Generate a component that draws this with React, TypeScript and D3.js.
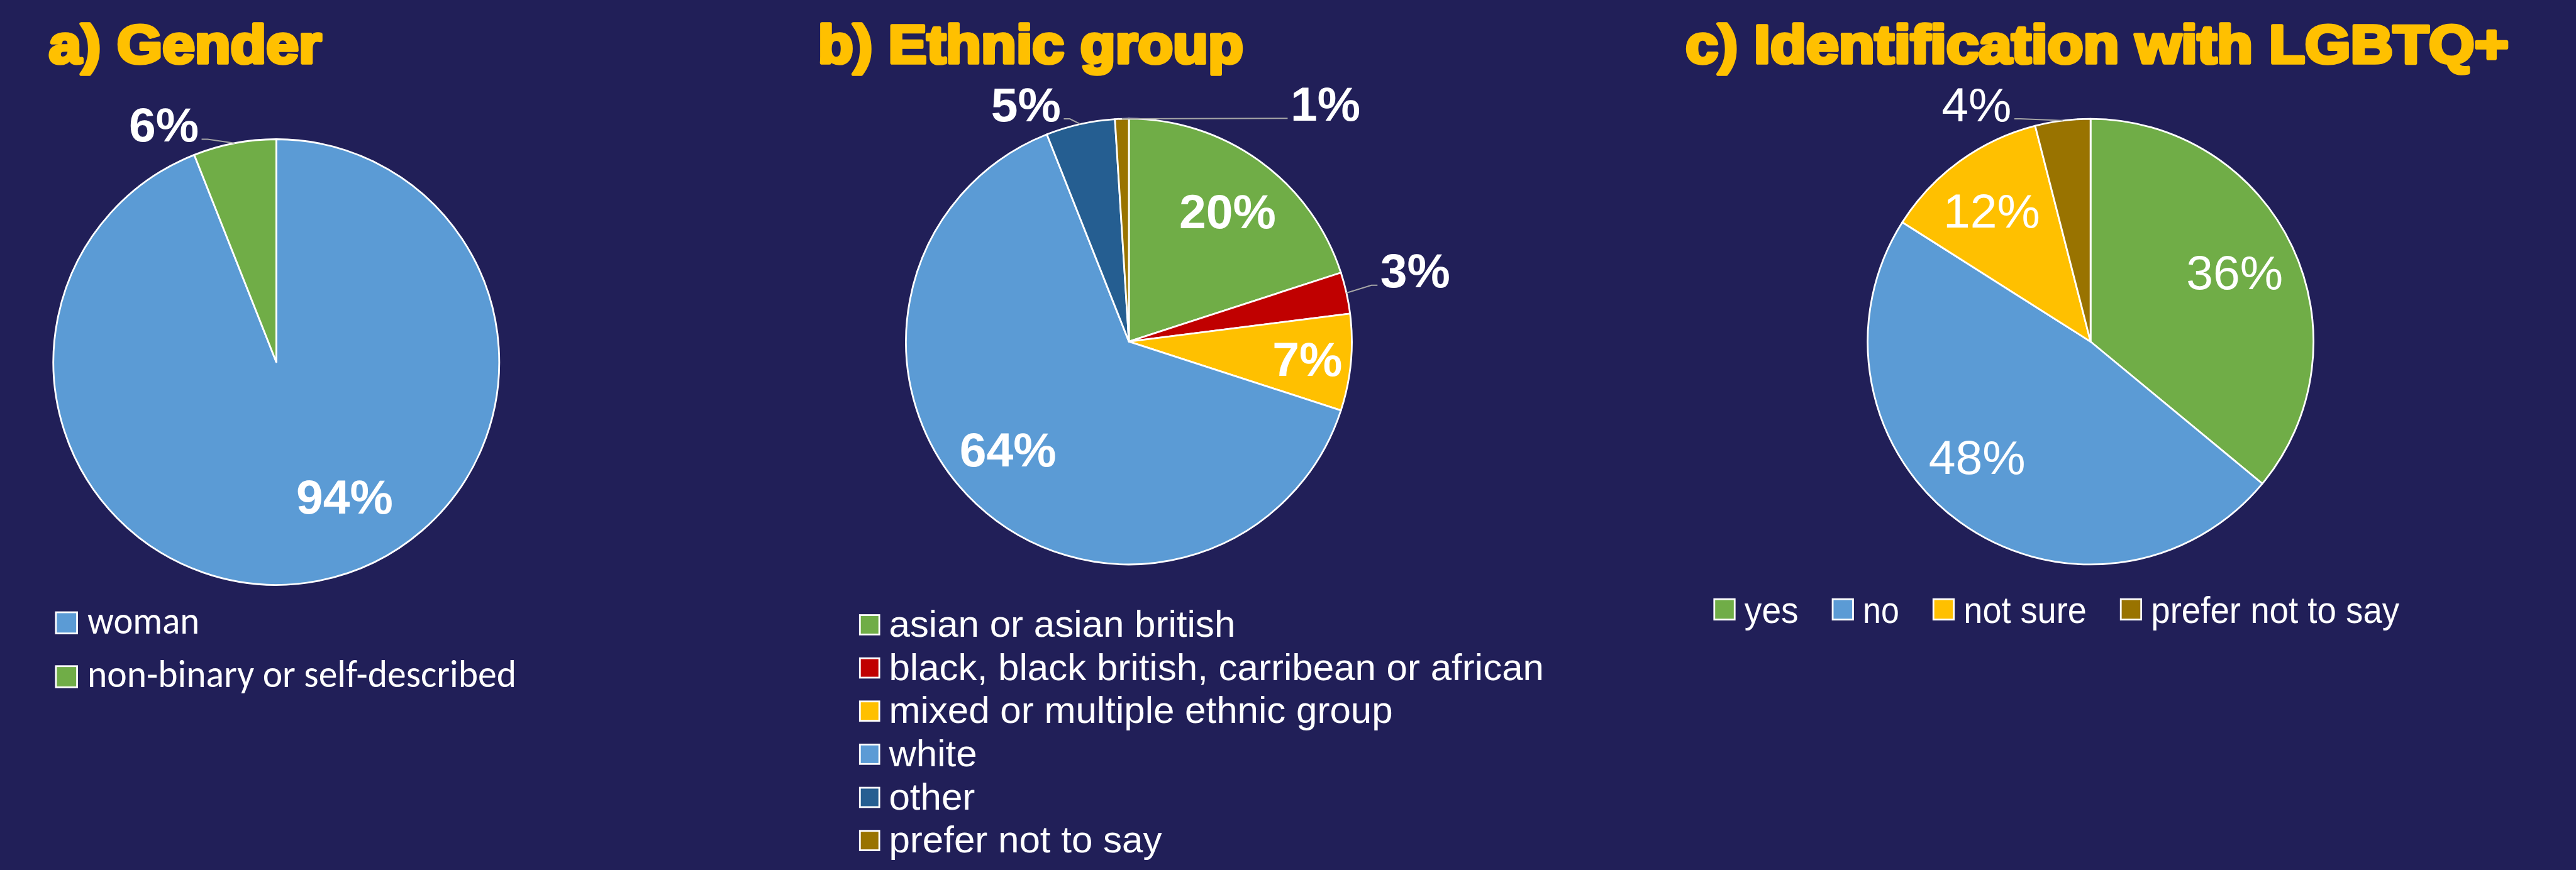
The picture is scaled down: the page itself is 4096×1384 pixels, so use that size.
import React, { useEffect } from "react";
import * as d3 from "d3";

// ---------- data ----------
const genderCategories = ["woman", "non-binary or self-described"];
const genderValues = [94, 6];

const ethnicCategories = [
  "asian or asian british",
  "black, black british, carribean or african",
  "mixed or multiple ethnic group",
  "white",
  "other",
  "prefer not to say",
];
const ethnicValues = [20, 3, 7, 64, 5, 1];

const lgbtqCategories = ["yes", "no", "not sure", "prefer not to say"];
const lgbtqValues = [36, 48, 12, 4];

const titles = ["a) Gender", "b) Ethnic group", "c) Identification with LGBTQ+"];

// ---------- style / layout ----------
const GREEN = "#70AD47";
const LBLUE = "#5B9BD5";
const RED = "#C00000";
const YELLOW = "#FFC000";
const DBLUE = "#255E91";
const BROWN = "#997300";
const BG = "#211F58";

const genderColors = [LBLUE, GREEN];
const ethnicColors = [GREEN, RED, YELLOW, LBLUE, DBLUE, BROWN];
const lgbtqColors = [GREEN, LBLUE, YELLOW, BROWN];

// label placement: [angle in degrees clockwise from 12 o'clock, distance as fraction of radius]
const genderLabelPos: [number, number][] = [[153.1, 0.677], [334.7, 1.181]];
const ethnicLabelPos: [number, number][] = [
  [37.1, 0.734], [76.0, 1.324], [95.4, 0.804], [228.4, 0.726], [336.6, 1.163], [39.5, 1.386],
];
const lgbtqLabelPos: [number, number][] = [[64.2, 0.718], [224.6, 0.725], [323, 0.737], [334.4, 1.184]];

const S = 0.801;
const R = 442.5;
const LABEL_FS = 96;
const TITLE_FS = 106;
const TITLE_Y = 125;

function polar(cx: number, cy: number, d: number, deg: number): [number, number] {
  const a = (deg * Math.PI) / 180;
  return [cx + d * Math.sin(a), cy - d * Math.cos(a)];
}

function Pie(props: {
  cx: number;
  cy: number;
  values: number[];
  colors: string[];
  labelPos: [number, number][];
  bold: boolean;
}) {
  const { cx, cy, values, colors, labelPos, bold } = props;
  const arcs = d3.pie<number>().sort(null).value((d) => d)(values);
  const arcGen = d3.arc<d3.PieArcDatum<number>>().innerRadius(0).outerRadius(R);
  return (
    <g>
      <g transform={`translate(${cx},${cy})`}>
        {arcs.map((a, i) => (
          <path key={i} d={arcGen(a) || ""} fill={colors[i]} stroke="#FFFFFF" strokeWidth={3.5} strokeLinejoin="round" />
        ))}
      </g>
      {arcs.map((a, i) => {
        const [ang, frac] = labelPos[i];
        const [lx, ly] = polar(cx, cy, frac * R, ang);
        const out = frac > 1;
        let leader = null;
        if (out) {
          const midDeg = (((a.startAngle + a.endAngle) / 2) * 180) / Math.PI;
          const [ex, ey] = polar(cx, cy, R, midDeg);
          const dir = lx < ex ? 1 : -1;
          const sx = lx + dir * 75;
          const sy = ly + 30;
          const pts = [
            [sx, sy],
            [sx + dir * 12, sy],
            [ex, ey],
          ];
          leader = (
            <polyline
              points={pts.map((p) => p.join(",")).join(" ")}
              fill="none"
              stroke="#A6A6A6"
              strokeWidth={2.5}
            />
          );
        }
        return (
          <g key={"l" + i}>
            {leader}
            <text
              x={lx}
              y={ly + 0.358 * LABEL_FS}
              textAnchor="middle"
              fill="#FFFFFF"
              fontFamily="'Liberation Sans', Arial, sans-serif"
              fontWeight={bold ? 700 : 400}
              fontSize={LABEL_FS}
            >
              {values[i]}%
            </text>
          </g>
        );
      })}
    </g>
  );
}

function Title(props: { x: number; text: string; width: number }) {
  return (
    <text
      x={props.x}
      y={TITLE_Y}
      fill={YELLOW}
      stroke={YELLOW}
      strokeWidth={7}
      strokeLinejoin="round"
      fontFamily="'Liberation Sans', Arial, sans-serif"
      fontWeight={700}
      fontSize={TITLE_FS}
      textLength={props.width}
      lengthAdjust="spacingAndGlyphs"
    >
      {props.text}
    </text>
  );
}

function Swatch(props: { x: number; y: number; size: number; color: string }) {
  return (
    <rect x={props.x} y={props.y} width={props.size} height={props.size} fill={props.color} stroke="#FFFFFF" strokeWidth={3.5} />
  );
}

export default function App() {
  useEffect(() => {
    document.body.style.margin = "0";
    document.body.style.background = BG;
  }, []);

  const legendAWidths = [222.5, 851.5];
  const legendCWidths = [107, 72, 244, 493];
  let cx = 3403;
  const legendC = lgbtqCategories.map((c, i) => {
    const item = { sq: cx, tx: cx + 60, w: legendCWidths[i], label: c, color: lgbtqColors[i] };
    cx = cx + 60 + legendCWidths[i] + 68;
    return item;
  });

  return (
    <svg
      width={4096}
      height={1384}
      style={{ position: "absolute", left: 0, top: 0, display: "block" }}
    >
      <rect x={0} y={0} width={4096} height={1384} fill={BG} />
      <g transform={`scale(${S})`}>
        <Title x={97} text={titles[0]} width={541} />
        <Title x={1624} text={titles[1]} width={844} />
        <Title x={3346} text={titles[2]} width={1634} />

        <Pie cx={548.5} cy={719} values={genderValues} colors={genderColors} labelPos={genderLabelPos} bold={true} />
        <Pie cx={2241} cy={678.3} values={ethnicValues} colors={ethnicColors} labelPos={ethnicLabelPos} bold={true} />
        <Pie cx={4150} cy={678.5} values={lgbtqValues} colors={lgbtqColors} labelPos={lgbtqLabelPos} bold={false} />

        {/* legend a */}
        {genderCategories.map((c, i) => (
          <g key={"la" + i}>
            <Swatch x={111} y={1216 + i * 107} size={42} color={genderColors[i]} />
            <text
              x={173.5}
              y={1258 + i * 107}
              fill="#FFFFFF"
              fontFamily="Carlito, Lato, 'Open Sans', sans-serif"
              fontSize={76}
              textLength={legendAWidths[i]}
              lengthAdjust="spacingAndGlyphs"
            >
              {c}
            </text>
          </g>
        ))}

        {/* legend b */}
        {ethnicCategories.map((c, i) => (
          <g key={"lb" + i}>
            <Swatch x={1707} y={1221.6 + i * 85.7} size={38.5} color={ethnicColors[i]} />
            <text
              x={1764.6}
              y={1264.6 + i * 85.7}
              fill="#FFFFFF"
              fontFamily="'Liberation Sans', Arial, sans-serif"
              fontSize={75}
            >
              {c}
            </text>
          </g>
        ))}

        {/* legend c */}
        {legendC.map((it, i) => (
          <g key={"lc" + i}>
            <Swatch x={it.sq} y={1190} size={40.5} color={it.color} />
            <text
              x={it.tx}
              y={1236.7}
              fill="#FFFFFF"
              fontFamily="'Liberation Sans', Arial, sans-serif"
              fontSize={75}
              textLength={it.w}
              lengthAdjust="spacingAndGlyphs"
            >
              {it.label}
            </text>
          </g>
        ))}
      </g>
    </svg>
  );
}
